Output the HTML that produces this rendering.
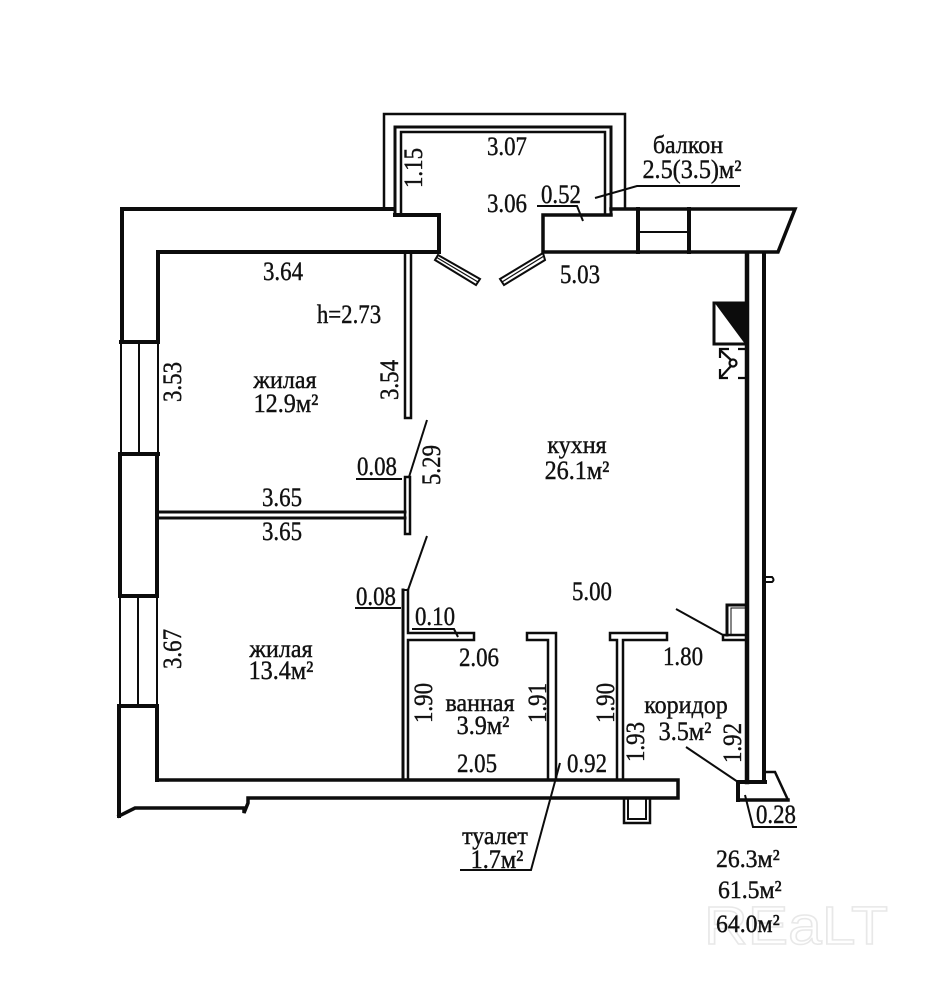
<!DOCTYPE html>
<html lang="ru">
<head>
<meta charset="utf-8">
<title>План квартиры</title>
<style>
html,body{margin:0;padding:0;background:#fff;width:936px;height:993px;overflow:hidden}
svg{display:block;filter:blur(.35px)}
text{font-family:"Liberation Serif","DejaVu Serif",serif;font-size:26px;fill:#111;stroke:#111;stroke-width:.4;text-anchor:middle;transform-box:fill-box;transform-origin:center;transform:scaleX(.88)}
text.w{transform:scaleX(.96);font-size:25px}
text.m{transform:scaleX(.93)}
text.wm{font-family:"Liberation Sans",sans-serif;font-size:54px;fill:#fff;stroke:#e8e8e8;stroke-width:1.5;text-anchor:start;transform:none}
text.s{text-anchor:start;font-size:25px;transform:scaleX(.95);transform-origin:left center}
</style>
</head>
<body>
<svg width="936" height="993" viewBox="0 0 936 993" xmlns="http://www.w3.org/2000/svg">
<rect width="936" height="993" fill="#fff"/>

<!-- watermark -->
<text class="wm" x="704" y="944" textLength="184" lengthAdjust="spacingAndGlyphs">REaLT</text>

<g fill="none" stroke="#0c0c0c" stroke-linejoin="miter" stroke-linecap="square">
  <!-- balcony -->
  <path d="M384 208V114H625V208" stroke-width="2.5"/>
  <path d="M395 214V127H611V214" stroke-width="3"/>
  <path d="M401 214V132H605V214" stroke-width="2.5"/>

  <!-- top wall left block -->
  <path d="M122 209H394" stroke-width="4"/>
  <path d="M395 215H439V252H158" stroke-width="4"/>

  <!-- top wall right block -->
  <path d="M611 215H543V252H778L795 209H611" stroke-width="3.5"/>
  <path d="M638 209V252" stroke-width="4"/>
  <path d="M689 209V252" stroke-width="4"/>
  <path d="M639 232H688" stroke-width="2"/>

  <!-- left walls -->
  <path d="M122 209V342" stroke-width="4"/>
  <path d="M158 252V342" stroke-width="4"/>
  <path d="M121 342H158" stroke-width="4"/>
  <path d="M121 343V454M139 343V454M158 343V454" stroke-width="2"/>
  <path d="M120 454H158" stroke-width="4"/>
  <path d="M120 454V596M157 454V596" stroke-width="4"/>
  <path d="M120 596H157" stroke-width="4"/>
  <path d="M120 597V706M138 597V706M157 597V706" stroke-width="2"/>
  <path d="M120 706H157" stroke-width="4"/>
  <path d="M119 706V816" stroke-width="4"/>
  <path d="M157 706V780" stroke-width="4"/>

  <!-- bottom walls -->
  <path d="M157 780H678V798H248V803L244 813V808H135L119 816" stroke-width="3.5"/>
  <path d="M624 799V823H650V799" stroke-width="2.5"/>
  <path d="M628 799V819H646V799" stroke-width="2"/>

  <!-- right wall -->
  <path d="M747 254V782" stroke-width="4.5"/>
  <path d="M764 254V782" stroke-width="4"/>
  <path d="M738 782H765" stroke-width="4"/>
  <path d="M738 782V800" stroke-width="4"/>
  <path d="M738 800H788" stroke-width="3.5"/>
  <path d="M788 800L775 772H765" stroke-width="2.5"/>
  <path d="M765 577H772Q775 580 772 582H765" stroke-width="2"/>

  <!-- niche -->
  <path d="M746 605H727V635" stroke-width="3"/>
  <path d="M731 608H746M731 608V635" stroke-width="1"/>
  <path d="M746 635H723V640H746" stroke-width="2.5"/>

  <!-- partitions -->
  <path d="M405 253V418H411V253" stroke-width="2.5"/>
  <path d="M158 512H405" stroke-width="3"/>
  <path d="M158 518H405" stroke-width="3"/>
  <path d="M405 477V534H410V477H405" stroke-width="2.5"/>
  <path d="M403 590V780" stroke-width="3"/>
  <path d="M408 590V633H474V640H408V780" stroke-width="2.5"/>
  <path d="M403 590H408" stroke-width="2"/>
  <path d="M527 640V633H556V780M527 640H548V780" stroke-width="2.5"/>
  <path d="M617 780V640H610V633H667V640H623V780" stroke-width="2.5"/>

  <!-- vent -->
  <path d="M714 303H747V344H714Z" stroke-width="3"/>
</g>
<path d="M714 302H748V344H745Z" fill="#0c0c0c"/>

<!-- balcony door leaves -->
<g fill="#fff" stroke="#0c0c0c" stroke-width="2">
  <path d="M438 255L480 279L476 285L435 260Z"/>
  <path d="M543 253L500 279L504 285L545 260Z"/>
</g>
<g stroke="#0c0c0c" stroke-width="1.2">
  <path d="M436 257L478 282"/>
  <path d="M544 256L502 282"/>
</g>

<!-- ventilation symbol -->
<g fill="none" stroke="#0c0c0c" stroke-width="2.2">
  <circle cx="733" cy="363" r="3.5"/>
  <path d="M731 360L720 350M731 366L720 378"/>
  <path d="M720 358V349H729M720 369V378H728"/>
  <path d="M738 349H746M738 378H746"/>
</g>

<!-- leaders -->
<g fill="none" stroke="#0c0c0c" stroke-width="2">
  <path d="M595 198L637 186H740"/>
  <path d="M537 206H577L583 221"/>
  <path d="M427 420L409 477"/>
  <path d="M427 536L408 590"/>
  <path d="M356 479H402"/>
  <path d="M355 608H401"/>
  <path d="M412 629H454L458 637"/>
  <path d="M676 609L723 635"/>
  <path d="M686 747L738 782"/>
  <path d="M745 795L753 827H797"/>
  <path d="M460 870H531L560 763"/>
</g>

<!-- labels -->
<text x="507" y="155">3.07</text>
<text x="507" y="212">3.06</text>
<text x="561" y="203">0.52</text>
<text class="w" x="688" y="153">балкон</text>
<text class="m" x="692" y="178">2.5(3.5)м²</text>
<text x="580" y="283">5.03</text>
<text x="283" y="280">3.64</text>
<text x="349" y="323">h=2.73</text>
<text class="w" x="285" y="388">жилая</text>
<text class="m" x="286" y="412">12.9м²</text>
<text x="377" y="475">0.08</text>
<text x="282" y="506">3.65</text>
<text x="282" y="540">3.65</text>
<text class="w" x="577" y="453">кухня</text>
<text class="m" x="577" y="479">26.1м²</text>
<text x="592" y="600">5.00</text>
<text x="376" y="605">0.08</text>
<text x="435" y="625">0.10</text>
<text x="479" y="666">2.06</text>
<text x="683" y="665">1.80</text>
<text class="w" x="281" y="657">жилая</text>
<text class="m" x="281" y="679">13.4м²</text>
<text class="w" x="480" y="711">ванная</text>
<text class="m" x="483" y="734">3.9м²</text>
<text x="477" y="772">2.05</text>
<text x="587" y="772">0.92</text>
<text class="w" x="686" y="713">коридор</text>
<text class="m" x="685" y="740">3.5м²</text>
<text x="776" y="823">0.28</text>
<text class="w" x="495" y="844">туалет</text>
<text class="m" x="497" y="868">1.7м²</text>

<!-- rotated labels -->
<g transform="translate(422 168) rotate(-90)"><text>1.15</text></g>
<g transform="translate(181 382) rotate(-90)"><text>3.53</text></g>
<g transform="translate(398 380) rotate(-90)"><text>3.54</text></g>
<g transform="translate(440 465) rotate(-90)"><text>5.29</text></g>
<g transform="translate(181 649) rotate(-90)"><text>3.67</text></g>
<g transform="translate(432 703) rotate(-90)"><text>1.90</text></g>
<g transform="translate(546 703) rotate(-90)"><text>1.91</text></g>
<g transform="translate(614 703) rotate(-90)"><text>1.90</text></g>
<g transform="translate(644 742) rotate(-90)"><text>1.93</text></g>
<g transform="translate(741 743) rotate(-90)"><text>1.92</text></g>

<!-- totals -->
<text class="s" x="716" y="867">26.3м²</text>
<text class="s" x="718" y="898">61.5м²</text>
<text class="s" x="716" y="932">64.0м²</text>
</svg>
</body>
</html>
